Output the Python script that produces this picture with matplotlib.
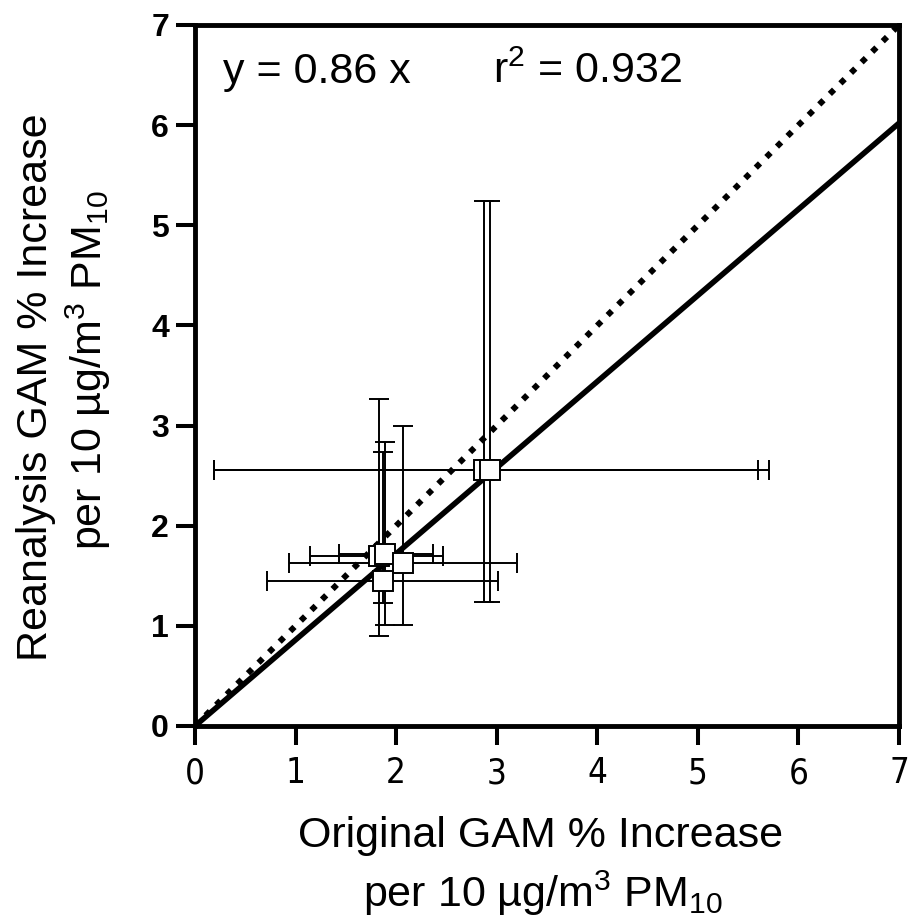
import matplotlib

matplotlib.use("Agg")
import matplotlib.pyplot as plt
import numpy as np

# Original vs reanalysis GAM estimates (% increase per 10 ug/m3 PM10)
orig_est = [2.87, 2.93, 1.83, 1.89, 2.07, 1.87]
rean_est = [2.56, 2.56, 1.70, 1.72, 1.63, 1.45]
orig_lo = [0.19, 0.19, 1.14, 1.43, 0.93, 0.72]
orig_hi = [5.60, 5.71, 2.47, 2.37, 3.20, 3.01]
rean_lo = [1.24, 1.24, 0.90, 1.01, 1.01, 1.23]
rean_hi = [5.24, 5.24, 3.26, 2.84, 3.00, 2.74]

slope = 0.86
r2 = 0.932
axis_max = 7

plt.rcParams["font.family"] = ["Liberation Sans", "DejaVu Sans"]
plt.rcParams["mathtext.fontset"] = "custom"
plt.rcParams["mathtext.rm"] = "Liberation Sans"

fig = plt.figure(figsize=(9.1, 9.18), dpi=100)
ax = fig.add_axes([0.2143, 0.2092, 0.7737, 0.7636])

x = np.array(orig_est)
y = np.array(rean_est)
xerr = [x - np.array(orig_lo), np.array(orig_hi) - x]
yerr = [y - np.array(rean_lo), np.array(rean_hi) - y]

ax.errorbar(x, y, xerr=xerr, yerr=yerr, fmt="none", ecolor="black",
            elinewidth=1.4, capsize=7.5, capthick=1.4, zorder=1)

line_x = np.array([0, axis_max])
ax.plot(line_x, line_x, color="black", lw=4.3, linestyle=(0, (1, 1.5)),
        dash_capstyle="butt", zorder=2)
ax.plot(line_x, slope * line_x, color="black", lw=4, zorder=2)

ax.plot(x, y, "s", ms=15, mfc="white", mec="black", mew=1.4, zorder=3)

ax.set_xlim(0, axis_max)
ax.set_ylim(0, axis_max)
ax.set_xticks(range(0, axis_max + 1))
ax.set_yticks(range(0, axis_max + 1))
for s in ax.spines.values():
    s.set_linewidth(3.5)
ax.tick_params(direction="out", length=13.7, width=2.9)
ax.tick_params(axis="y", pad=5)
ax.tick_params(axis="x", pad=8)
for lab in ax.get_yticklabels():
    lab.set_fontsize(23)
    lab.set_fontweight("bold")
for lab in ax.get_xticklabels():
    lab.set_fontsize(25)
    lab.set_family("DejaVu Sans")
    lab.set_stretch("condensed")

ax.text(0.28, 6.42, f"y = {slope:.2f} x", fontsize=31, va="baseline")
ax.text(2.96, 6.42, f"r$^2$ = {r2:.3f}", fontsize=31, va="baseline")

label_kw = dict(fontsize=31, ha="center", va="baseline", rotation_mode="anchor")
fig.text(0.5945, 1 - 847 / 918, "Original GAM % Increase", **label_kw)
fig.text(0.597, 1 - 907 / 918, "per 10 µg/m$^3$ PM$_{10}$", **label_kw)
fig.text(47 / 910, 0.578, "Reanalysis GAM % Increase", rotation=90, **label_kw)
fig.text(102 / 910, 0.597, "per 10 µg/m$^3$ PM$_{10}$", rotation=90, **label_kw)

fig.savefig("out.png", dpi=100)
